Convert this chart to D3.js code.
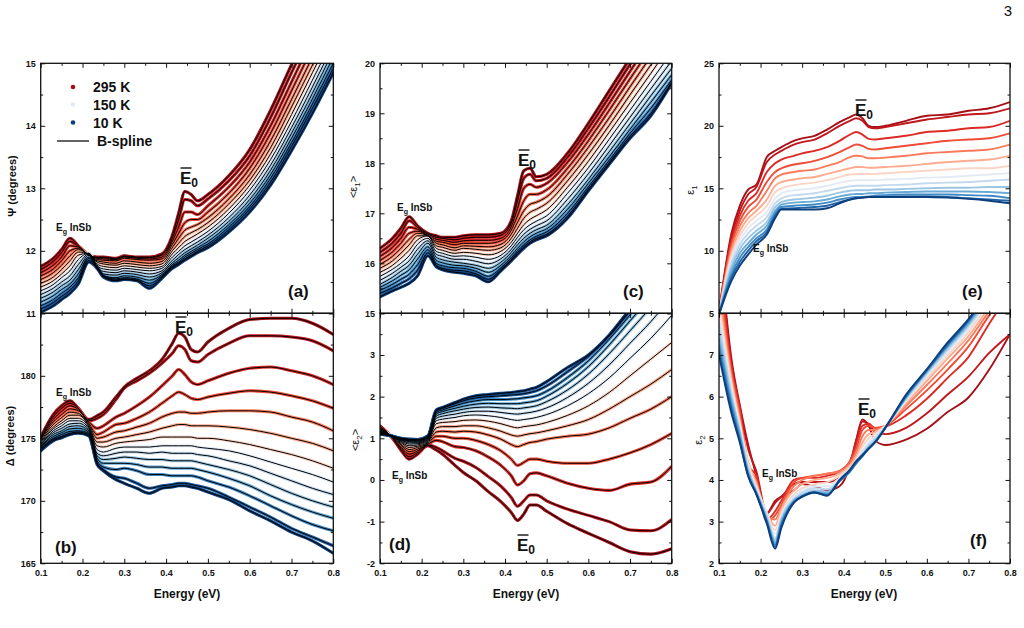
<!DOCTYPE html>
<html><head><meta charset="utf-8">
<script src="https://cdn.jsdelivr.net/npm/d3@7"></script>
<style>
body{margin:0;background:#fff;}
svg{display:block;}
text{font-family:"Liberation Sans",Arial,sans-serif;}
</style></head><body>
<svg id="c" width="1024" height="628"></svg>
<script>
// ---------------- data ----------------
const energies = [0.10,0.13,0.15,0.17,0.19,0.215,0.235,0.25,0.28,0.30,0.33,0.36,0.39,0.415,0.43,0.445,0.46,0.475,0.50,0.55,0.60,0.65,0.70,0.75,0.80];
const temperatures = [295,275,255,235,215,195,175,150,125,100,75,50,30,10];
const legendTemps = [295,150,10];
const curveColors = ["#a50f15","#c0161c","#dc2b25","#ef4b36","#f97b5c","#fcab8f","#fbd5c6","#e2ebf5","#c3d9ee","#9ac6e3","#68aad6","#3f8ac4","#1f62a6","#0c3f7d"];

const psi = [
[11.75,11.88,12.02,12.2,12.08,11.93,11.9,11.9,11.88,11.92,11.9,11.9,11.95,12.25,12.6,12.95,12.9,12.8,12.9,13.2,13.62,14.25,14.98,15.7,16.4],
[11.7,11.83,11.97,12.15,12.07,11.93,11.89,11.89,11.87,11.91,11.89,11.89,11.93,12.2,12.5,12.82,12.8,12.72,12.83,13.12,13.52,14.13,14.85,15.55,16.25],
[11.65,11.77,11.9,12.08,12.06,11.93,11.88,11.87,11.86,11.9,11.88,11.87,11.9,12.15,12.38,12.62,12.62,12.58,12.72,13.02,13.42,14.0,14.7,15.4,16.1],
[11.6,11.71,11.84,12.0,12.04,11.93,11.86,11.85,11.84,11.88,11.86,11.85,11.87,12.1,12.28,12.45,12.5,12.5,12.62,12.92,13.32,13.88,14.56,15.25,15.95],
[11.54,11.65,11.77,11.92,12.02,11.94,11.84,11.82,11.8,11.84,11.82,11.8,11.83,12.05,12.2,12.33,12.38,12.42,12.53,12.83,13.22,13.76,14.42,15.1,15.8],
[11.48,11.58,11.7,11.84,11.98,11.95,11.82,11.79,11.77,11.8,11.78,11.76,11.79,12.0,12.12,12.23,12.29,12.34,12.45,12.75,13.13,13.65,14.3,14.97,15.65],
[11.42,11.52,11.63,11.76,11.93,11.96,11.79,11.75,11.73,11.76,11.74,11.72,11.75,11.95,12.05,12.15,12.21,12.27,12.38,12.67,13.05,13.55,14.18,14.85,15.52],
[11.36,11.46,11.57,11.68,11.86,11.96,11.76,11.71,11.69,11.72,11.7,11.68,11.72,11.9,11.99,12.08,12.14,12.2,12.31,12.6,12.97,13.46,14.07,14.73,15.4],
[11.3,11.4,11.5,11.6,11.78,11.95,11.73,11.67,11.65,11.68,11.66,11.63,11.68,11.85,11.94,12.02,12.08,12.14,12.25,12.53,12.89,13.37,13.97,14.62,15.3],
[11.24,11.34,11.44,11.53,11.7,11.93,11.71,11.63,11.61,11.64,11.62,11.58,11.65,11.81,11.89,11.97,12.03,12.09,12.2,12.47,12.82,13.29,13.88,14.52,15.2],
[11.18,11.28,11.38,11.47,11.63,11.9,11.74,11.6,11.57,11.6,11.58,11.53,11.62,11.78,11.85,11.93,11.99,12.05,12.15,12.42,12.76,13.22,13.8,14.43,15.1],
[11.12,11.22,11.32,11.42,11.57,11.88,11.74,11.6,11.55,11.57,11.55,11.48,11.6,11.76,11.82,11.9,11.96,12.02,12.11,12.38,12.71,13.16,13.73,14.35,15.0],
[11.07,11.17,11.27,11.37,11.52,11.85,11.74,11.6,11.53,11.55,11.53,11.44,11.58,11.74,11.8,11.87,11.93,11.99,12.08,12.34,12.67,13.1,13.67,14.28,14.92],
[11.02,11.12,11.22,11.32,11.47,11.82,11.72,11.58,11.52,11.54,11.52,11.4,11.56,11.72,11.78,11.85,11.91,11.97,12.05,12.3,12.62,13.05,13.6,14.2,14.85]
];

const delta = [
[175.1,176.9,177.6,178.0,177.4,176.5,176.8,177.1,178.3,179.1,179.8,180.4,181.3,182.6,183.4,183.1,182.1,181.9,182.7,183.8,184.5,184.6,184.6,184.2,183.3],
[175.0,176.7,177.4,177.8,177.4,176.4,176.6,176.9,178.1,179.0,179.6,180.2,181.0,181.8,182.4,182.1,181.2,181.1,181.7,182.6,183.2,183.2,183.1,182.8,182.0],
[174.95,176.5,177.15,177.6,177.3,176.3,175.8,176.0,176.7,177.0,177.6,178.3,179.2,180.0,180.5,180.1,179.5,179.3,179.6,180.2,180.6,180.7,180.4,180.0,179.3],
[174.9,176.3,176.9,177.35,177.2,176.2,175.3,175.5,176.1,176.2,176.6,177.1,177.8,178.4,178.7,178.5,178.2,178.1,178.3,178.6,178.8,178.7,178.4,178.0,177.4],
[174.8,176.1,176.65,177.1,177.0,176.1,175.0,175.1,175.5,175.6,175.9,176.2,176.7,177.0,177.1,177.1,177.0,177.0,177.1,177.2,177.2,177.1,176.7,176.3,175.6],
[174.7,175.9,176.4,176.85,176.85,176.0,174.7,174.7,175.0,175.1,175.3,175.5,175.8,176.0,176.1,176.1,176.0,176.0,176.0,175.9,175.7,175.4,175.0,174.6,174.0],
[174.6,175.75,176.2,176.6,176.6,175.9,174.4,174.3,174.6,174.7,174.8,174.9,175.1,175.1,175.1,175.1,175.1,175.0,175.0,174.8,174.5,174.1,173.7,173.2,172.6],
[174.5,175.6,176.0,176.4,176.4,175.8,174.1,173.9,174.2,174.3,174.3,174.3,174.4,174.4,174.4,174.4,174.4,174.3,174.2,174.0,173.6,173.1,172.6,172.1,171.5],
[174.45,175.45,175.8,176.15,176.2,175.7,173.8,173.6,173.8,173.9,173.9,173.8,173.9,173.8,173.8,173.8,173.8,173.7,173.6,173.2,172.8,172.2,171.6,171.0,170.5],
[174.35,175.3,175.6,175.95,176.0,175.6,173.6,173.3,173.4,173.5,173.4,173.3,173.3,173.2,173.2,173.2,173.2,173.1,172.9,172.5,172.0,171.3,170.6,170.0,169.5],
[174.3,175.15,175.45,175.75,175.8,175.5,173.4,173.0,173.0,173.0,172.9,172.7,172.7,172.6,172.6,172.6,172.6,172.5,172.3,171.8,171.2,170.4,169.7,169.1,168.6],
[174.2,175.0,175.3,175.55,175.6,175.4,173.2,172.7,172.5,172.6,172.4,172.1,172.1,172.0,172.0,172.0,172.0,171.9,171.6,171.1,170.4,169.6,168.8,168.1,167.6],
[174.1,174.9,175.15,175.4,175.5,175.3,173.0,172.5,171.9,171.8,171.4,171.0,171.2,171.3,171.4,171.4,171.3,171.2,171.0,170.3,169.5,168.7,167.8,167.1,166.4],
[174.0,174.8,175.05,175.3,175.4,175.2,172.9,172.4,171.7,171.4,171.0,170.6,171.0,171.1,171.2,171.2,171.1,171.0,170.7,170.1,169.2,168.4,167.5,166.8,165.8]
];

const eps1Pseudo = [
[16.3,16.5,16.7,16.93,16.75,16.6,16.55,16.52,16.52,16.55,16.57,16.57,16.6,16.85,17.35,17.85,17.9,17.73,17.78,18.2,18.8,19.45,20.1,20.75,21.4],
[16.22,16.41,16.6,16.85,16.72,16.58,16.52,16.5,16.47,16.5,16.52,16.52,16.56,16.8,17.25,17.7,17.78,17.65,17.7,18.12,18.7,19.33,19.98,20.62,21.27],
[16.14,16.32,16.5,16.72,16.68,16.56,16.48,16.46,16.42,16.45,16.46,16.46,16.5,16.73,17.1,17.5,17.58,17.52,17.6,18.02,18.58,19.2,19.84,20.47,21.12],
[16.06,16.23,16.4,16.6,16.64,16.55,16.44,16.42,16.37,16.4,16.4,16.4,16.45,16.66,16.95,17.25,17.38,17.38,17.47,17.9,18.45,19.06,19.69,20.31,20.95],
[15.98,16.14,16.3,16.48,16.6,16.55,16.4,16.37,16.31,16.35,16.34,16.33,16.38,16.58,16.82,17.05,17.18,17.22,17.33,17.78,18.32,18.91,19.53,20.14,20.77],
[15.9,16.05,16.2,16.37,16.55,16.55,16.35,16.32,16.26,16.3,16.28,16.26,16.31,16.5,16.7,16.9,17.02,17.08,17.2,17.65,18.18,18.76,19.37,19.97,20.58],
[15.82,15.96,16.1,16.26,16.47,16.55,16.3,16.26,16.2,16.22,16.2,16.17,16.24,16.42,16.6,16.77,16.88,16.95,17.07,17.52,18.04,18.62,19.21,19.8,20.4],
[15.74,15.88,16.0,16.15,16.38,16.5,16.24,16.2,16.14,16.15,16.12,16.08,16.16,16.35,16.52,16.67,16.77,16.84,16.95,17.4,17.91,18.48,19.06,19.64,20.22],
[15.66,15.8,15.92,16.05,16.28,16.45,16.18,16.14,16.08,16.08,16.04,15.99,16.09,16.28,16.44,16.58,16.68,16.75,16.85,17.28,17.79,18.35,18.92,19.49,20.05],
[15.58,15.72,15.84,15.96,16.18,16.4,16.12,16.07,16.02,16.0,15.96,15.9,16.02,16.22,16.37,16.5,16.6,16.67,16.76,17.17,17.68,18.23,18.79,19.35,19.9],
[15.52,15.65,15.76,15.87,16.08,16.33,16.06,16.01,15.96,15.95,15.9,15.82,15.96,16.16,16.3,16.43,16.53,16.6,16.69,17.08,17.6,18.13,18.68,19.22,19.77],
[15.46,15.58,15.68,15.78,15.97,16.27,16.0,15.95,15.91,15.9,15.84,15.74,15.91,16.11,16.25,16.37,16.47,16.54,16.63,17.0,17.53,18.06,18.6,19.1,19.67],
[15.4,15.51,15.6,15.69,15.86,16.21,15.96,15.9,15.86,15.85,15.79,15.68,15.87,16.07,16.21,16.33,16.43,16.5,16.58,16.94,17.48,18.01,18.54,19.0,19.62],
[15.33,15.45,15.52,15.6,15.75,16.15,15.93,15.87,15.82,15.8,15.75,15.63,15.85,16.05,16.18,16.3,16.4,16.47,16.55,16.9,17.45,17.98,18.5,18.95,19.6]
];

const eps2Pseudo = [
[1.3,1.0,0.72,0.5,0.62,0.82,0.72,0.62,0.35,0.18,-0.02,-0.28,-0.52,-0.78,-0.97,-0.82,-0.6,-0.6,-0.75,-1.05,-1.28,-1.5,-1.72,-1.78,-1.65],
[1.29,1.01,0.76,0.56,0.66,0.84,0.78,0.7,0.52,0.45,0.3,0.08,-0.15,-0.42,-0.63,-0.5,-0.36,-0.36,-0.5,-0.7,-0.85,-1.0,-1.2,-1.22,-0.95],
[1.27,1.02,0.8,0.62,0.7,0.86,0.95,0.92,0.8,0.78,0.7,0.55,0.35,0.1,-0.12,-0.02,0.15,0.17,0.1,-0.08,-0.2,-0.25,-0.1,-0.05,0.33],
[1.25,1.03,0.84,0.68,0.74,0.88,1.05,1.05,1.0,1.0,0.95,0.85,0.7,0.5,0.35,0.42,0.5,0.5,0.45,0.4,0.4,0.5,0.65,0.85,1.12],
[1.23,1.04,0.87,0.73,0.78,0.9,1.15,1.17,1.15,1.17,1.15,1.08,0.98,0.85,0.8,0.85,0.9,0.92,0.98,1.05,1.1,1.25,1.48,1.7,2.0],
[1.21,1.04,0.9,0.78,0.81,0.92,1.25,1.28,1.28,1.3,1.3,1.25,1.17,1.08,1.05,1.08,1.11,1.13,1.18,1.3,1.45,1.7,2.0,2.3,2.65],
[1.2,1.05,0.92,0.82,0.84,0.94,1.35,1.38,1.4,1.43,1.44,1.41,1.35,1.28,1.25,1.28,1.3,1.32,1.38,1.55,1.78,2.1,2.5,2.9,3.3],
[1.18,1.05,0.94,0.86,0.87,0.96,1.42,1.46,1.5,1.54,1.56,1.54,1.5,1.45,1.43,1.45,1.47,1.5,1.57,1.78,2.07,2.45,2.92,3.4,3.95],
[1.16,1.05,0.96,0.89,0.89,0.98,1.48,1.53,1.58,1.62,1.65,1.65,1.62,1.59,1.58,1.6,1.62,1.65,1.73,1.98,2.32,2.76,3.28,3.8,4.4],
[1.15,1.05,0.97,0.92,0.91,1.0,1.53,1.59,1.66,1.7,1.74,1.75,1.73,1.72,1.71,1.73,1.75,1.78,1.88,2.16,2.54,3.03,3.58,4.15,4.8],
[1.13,1.05,0.98,0.94,0.93,1.02,1.58,1.64,1.72,1.77,1.82,1.84,1.83,1.83,1.83,1.85,1.87,1.9,2.01,2.32,2.72,3.24,3.82,4.4,5.1],
[1.12,1.05,0.99,0.96,0.95,1.04,1.62,1.68,1.78,1.84,1.9,1.93,1.93,1.94,1.95,1.97,1.99,2.02,2.13,2.46,2.86,3.38,3.96,4.55,5.3],
[1.11,1.05,1.0,0.97,0.96,1.05,1.66,1.72,1.83,1.9,1.97,2.0,2.02,2.04,2.05,2.07,2.1,2.14,2.26,2.6,2.97,3.46,4.05,4.65,5.45],
[1.1,1.05,1.0,0.98,0.97,1.06,1.68,1.74,1.86,1.94,2.02,2.05,2.08,2.1,2.12,2.14,2.18,2.22,2.36,2.7,3.0,3.48,4.1,4.7,5.55]
];

const eps1 = [
[5.1,11.4,13.6,14.9,15.3,17.5,18.0,18.3,18.8,19.0,19.2,19.7,20.3,20.7,20.9,20.6,20.0,19.9,20.0,20.4,20.8,20.9,21.2,21.4,21.9],
[5.1,11.1,13.2,14.5,15.1,17.1,17.7,18.0,18.5,18.7,18.9,19.4,20.0,20.4,20.6,20.4,19.9,19.8,19.9,20.2,20.5,20.7,20.9,21.0,21.4],
[5.05,10.8,12.8,14.0,14.6,16.3,17.0,17.3,17.6,17.8,18.0,18.3,18.8,19.3,19.5,19.3,18.95,18.9,19.0,19.2,19.5,19.6,19.8,19.9,20.4],
[5.05,10.5,12.4,13.5,14.1,15.5,16.3,16.6,16.9,17.0,17.2,17.5,17.9,18.3,18.5,18.4,18.15,18.1,18.2,18.4,18.6,18.8,18.9,19.0,19.4],
[5.0,10.2,12.0,13.0,13.6,14.8,15.8,16.1,16.3,16.4,16.5,16.8,17.1,17.5,17.6,17.55,17.4,17.4,17.45,17.6,17.8,17.9,18.0,18.1,18.5],
[5.0,9.9,11.6,12.6,13.2,14.1,15.2,15.5,15.7,15.8,15.9,16.15,16.4,16.6,16.7,16.7,16.65,16.65,16.7,16.8,16.95,17.1,17.2,17.3,17.6],
[5.0,9.6,11.2,12.2,12.8,13.6,14.7,15.0,15.25,15.35,15.45,15.65,15.9,16.1,16.15,16.15,16.15,16.15,16.2,16.3,16.4,16.5,16.6,16.6,16.8],
[5.0,9.3,10.85,11.8,12.4,13.1,14.2,14.6,14.85,14.9,15.0,15.2,15.45,15.6,15.65,15.65,15.65,15.65,15.7,15.75,15.85,15.9,16.0,16.1,16.2],
[5.0,9.0,10.5,11.4,12.0,12.7,13.8,14.2,14.45,14.5,14.6,14.8,15.0,15.15,15.2,15.2,15.2,15.2,15.25,15.3,15.4,15.45,15.5,15.6,15.7],
[4.95,8.7,10.15,11.0,11.6,12.3,13.5,13.9,14.1,14.15,14.25,14.4,14.65,14.8,14.85,14.85,14.85,14.9,14.9,14.95,15.0,15.05,15.05,15.1,15.1],
[4.95,8.4,9.8,10.6,11.3,12.0,13.2,13.7,13.85,13.9,13.95,14.1,14.35,14.5,14.55,14.55,14.6,14.6,14.65,14.7,14.75,14.75,14.75,14.7,14.6],
[4.95,8.1,9.45,10.3,11.0,11.7,13.0,13.5,13.6,13.65,13.7,13.85,14.1,14.25,14.3,14.3,14.35,14.4,14.45,14.5,14.5,14.5,14.45,14.4,14.2],
[4.9,7.85,9.1,10.0,10.75,11.5,12.8,13.35,13.4,13.45,13.5,13.6,13.9,14.1,14.2,14.25,14.3,14.3,14.3,14.35,14.35,14.3,14.2,14.1,14.0],
[4.9,7.6,8.8,9.7,10.5,11.3,12.6,13.3,13.3,13.3,13.3,13.4,13.8,14.1,14.2,14.25,14.3,14.3,14.3,14.3,14.3,14.25,14.15,14.0,13.8]
];

const eps2 = [
[9.8,6.9,5.8,4.85,4.1,3.2,3.5,3.6,3.75,3.9,3.85,3.75,3.85,4.35,4.95,5.45,5.3,4.95,4.84,4.97,5.23,5.63,5.98,6.65,7.5],
[9.6,6.8,5.75,4.75,4.2,3.2,3.45,3.6,3.9,3.95,3.95,3.95,4.05,4.4,4.95,5.4,5.35,5.15,5.1,5.25,5.6,6.05,6.48,7.05,7.5],
[9.3,6.7,5.7,4.35,4.1,3.05,3.25,3.5,4.0,4.05,4.05,4.1,4.2,4.45,4.85,5.3,5.35,5.25,5.28,5.55,5.95,6.45,6.95,7.75,8.5],
[9.0,6.6,5.6,4.3,4.0,3.0,3.15,3.4,3.95,4.05,4.1,4.15,4.22,4.45,4.75,5.2,5.3,5.25,5.3,5.7,6.15,6.65,7.2,7.95,8.6],
[8.7,6.5,5.5,4.4,3.95,3.1,3.05,3.35,3.85,4.0,4.1,4.15,4.2,4.4,4.65,5.05,5.2,5.2,5.3,5.78,6.28,6.8,7.35,8.05,8.7],
[8.4,6.4,5.4,4.45,3.9,3.2,2.9,3.3,3.75,3.9,4.0,4.05,4.15,4.35,4.55,4.9,5.1,5.15,5.3,5.84,6.38,6.92,7.45,8.15,8.8],
[8.2,6.3,5.35,4.4,3.85,3.2,2.8,3.2,3.65,3.8,3.9,3.95,4.1,4.3,4.5,4.8,5.0,5.1,5.3,5.88,6.45,7.0,7.55,8.25,8.9],
[8.0,6.2,5.3,4.35,3.8,3.2,2.7,3.15,3.6,3.75,3.85,3.85,4.05,4.27,4.45,4.7,4.9,5.05,5.28,5.91,6.5,7.06,7.62,8.3,9.0],
[7.8,6.1,5.2,4.3,3.75,3.15,2.6,3.1,3.55,3.7,3.8,3.78,4.0,4.24,4.42,4.65,4.85,5.0,5.27,5.94,6.54,7.12,7.68,8.35,9.05],
[7.6,6.0,5.15,4.25,3.72,3.1,2.55,3.05,3.52,3.65,3.75,3.72,3.98,4.22,4.4,4.6,4.8,4.95,5.26,5.96,6.58,7.16,7.72,8.4,9.1],
[7.4,5.9,5.1,4.2,3.7,3.05,2.5,3.0,3.5,3.62,3.72,3.68,3.97,4.2,4.4,4.58,4.78,4.92,5.25,5.98,6.6,7.2,7.76,8.45,9.15],
[7.25,5.8,5.0,4.15,3.68,3.0,2.45,2.95,3.48,3.6,3.7,3.65,3.97,4.2,4.4,4.57,4.76,4.9,5.25,6.0,6.62,7.23,7.8,8.5,9.2],
[7.1,5.7,4.95,4.1,3.66,3.0,2.4,2.9,3.46,3.6,3.7,3.63,3.98,4.22,4.42,4.57,4.75,4.9,5.25,6.02,6.64,7.26,7.83,8.52,9.22],
[7.0,5.6,4.9,4.1,3.65,2.95,2.35,2.85,3.45,3.6,3.7,3.62,4.0,4.25,4.45,4.6,4.75,4.9,5.25,6.05,6.66,7.3,7.86,8.55,9.25]
];

const xTickLabels = [0.1,0.2,0.3,0.4,0.5,0.6,0.7,0.8];
const psiTicks = [11,12,13,14,15];
const deltaTicks = [165,170,175,180];
const eps1PTicks = [15,16,17,18,19,20];
const eps2PTicks = [-2,-1,0,1,2,3];
const eps1Ticks = [5,10,15,20,25];
const eps2Ticks = [2,3,4,5,6,7];

// ---------------- drawing ----------------
const svg = d3.select("#c");
const FONT = '"Liberation Sans",Arial,sans-serif';

const panels = [
  {id:"a", data:psi,        x0:40.7, x1:333.3, y0:63.3,  y1:313.3, dom:[11,15],  step:1, labels:psiTicks,   fit:true,  bottom:false},
  {id:"b", data:delta,      x0:40.7, x1:333.3, y0:313.3, y1:563.3, dom:[165,185],step:5, labels:deltaTicks, fit:true,  bottom:true},
  {id:"c", data:eps1Pseudo, x0:380,  x1:671.7, y0:63.3,  y1:313.3, dom:[15,20],  step:1, labels:eps1PTicks, fit:true,  bottom:false},
  {id:"d", data:eps2Pseudo, x0:380,  x1:671.7, y0:313.3, y1:563.3, dom:[-2,4],   step:1, labels:eps2PTicks, fit:true,  bottom:true},
  {id:"e", data:eps1,       x0:719,  x1:1010,  y0:63.3,  y1:313.3, dom:[5,25],   step:5, labels:eps1Ticks,  fit:false, bottom:false},
  {id:"f", data:eps2,       x0:719,  x1:1010,  y0:313.3, y1:563.3, dom:[2,8],    step:1, labels:eps2Ticks,  fit:false, bottom:true}
];

const defs = svg.append("defs");

function styleAxis(sel){
  sel.select(".domain").remove();
  sel.selectAll("line").attr("stroke","#111").attr("stroke-width",1);
  sel.selectAll("text").attr("font-family",FONT).attr("font-size",9).attr("font-weight","bold").attr("fill","#111");
  sel.attr("font-family",null).attr("font-size",null);
}

panels.forEach(p=>{
  const x = d3.scaleLinear().domain([0.1,0.8]).range([p.x0,p.x1]);
  const y = d3.scaleLinear().domain(p.dom).range([p.y1,p.y0]);
  defs.append("clipPath").attr("id","clip-"+p.id).append("rect")
    .attr("x",p.x0).attr("y",p.y0).attr("width",p.x1-p.x0).attr("height",p.y1-p.y0);
  const g = svg.append("g").attr("clip-path",`url(#clip-${p.id})`);
  const line = d3.line().x((d,i)=>x(energies[i])).y(d=>y(d)).curve(d3.curveMonotoneX);
  if(p.fit){
    g.selectAll("path.band").data(p.data).join("path").attr("class","band")
      .attr("d",line).attr("fill","none").attr("stroke",(d,i)=>curveColors[i])
      .attr("stroke-width",3.1).attr("stroke-linejoin","round").attr("stroke-linecap","round");
    g.selectAll("path.fit").data(p.data).join("path").attr("class","fit")
      .attr("d",line).attr("fill","none").attr("stroke","#000").attr("stroke-width",1);
  } else {
    g.selectAll("path.curve").data(p.data).join("path").attr("class","curve")
      .attr("d",line).attr("fill","none").attr("stroke",(d,i)=>curveColors[i])
      .attr("stroke-width",1.9).attr("stroke-linejoin","round");
  }

  // ticks
  const majY = d3.range(p.dom[0], p.dom[1]+1e-9, p.step);
  const minY = d3.range(p.dom[0], p.dom[1]+1e-9, p.step/2).filter(v=>!majY.some(m=>Math.abs(m-v)<1e-9));
  const majX = d3.range(0.1, 0.8+1e-9, 0.1);
  const minX = d3.range(0.15, 0.8, 0.1);
  const fmtY = d => p.labels.some(l=>Math.abs(l-d)<1e-9) ? String(d) : "";

  svg.append("g").attr("transform",`translate(${p.x0},0)`)
    .call(d3.axisLeft(y).tickValues(majY).tickSize(-4.5).tickPadding(5).tickFormat(fmtY)).call(styleAxis);
  svg.append("g").attr("transform",`translate(${p.x0},0)`)
    .call(d3.axisLeft(y).tickValues(minY).tickSize(-2.5).tickFormat("")).call(styleAxis);
  svg.append("g").attr("transform",`translate(${p.x1},0)`)
    .call(d3.axisRight(y).tickValues(majY).tickSize(-4.5).tickFormat("")).call(styleAxis);
  svg.append("g").attr("transform",`translate(${p.x1},0)`)
    .call(d3.axisRight(y).tickValues(minY).tickSize(-2.5).tickFormat("")).call(styleAxis);
  svg.append("g").attr("transform",`translate(0,${p.y0})`)
    .call(d3.axisTop(x).tickValues(majX).tickSize(-4.5).tickFormat("")).call(styleAxis);
  svg.append("g").attr("transform",`translate(0,${p.y0})`)
    .call(d3.axisTop(x).tickValues(minX).tickSize(-2.5).tickFormat("")).call(styleAxis);
  svg.append("g").attr("transform",`translate(0,${p.y1})`)
    .call(d3.axisBottom(x).tickValues(p.bottom?xTickLabels:majX).tickSize(-4.5).tickPadding(6.5)
      .tickFormat(p.bottom? d3.format(".1f") : "")).call(styleAxis);
  svg.append("g").attr("transform",`translate(0,${p.y1})`)
    .call(d3.axisBottom(x).tickValues(minX).tickSize(-2.5).tickFormat("")).call(styleAxis);

  svg.append("rect").attr("x",p.x0).attr("y",p.y0).attr("width",p.x1-p.x0).attr("height",p.y1-p.y0)
    .attr("fill","none").attr("stroke","#111").attr("stroke-width",1.3);
});

// ---------------- text annotations ----------------
function txt(x,y,s,size,weight,anchor){
  return svg.append("text").attr("x",x).attr("y",y).attr("font-family",FONT)
    .attr("font-size",size).attr("font-weight",weight||"bold").attr("text-anchor",anchor||"start")
    .attr("fill","#111").text(s);
}
function e0Label(x,y){
  const t = svg.append("text").attr("x",x).attr("y",y).attr("font-family",FONT)
    .attr("font-size",17).attr("font-weight","bold").attr("fill","#111");
  t.append("tspan").text("E");
  t.append("tspan").attr("font-size",12).attr("dy",3).text("0");
  svg.append("line").attr("x1",x+0.5).attr("x2",x+11.5).attr("y1",y-16).attr("y2",y-16)
    .attr("stroke","#111").attr("stroke-width",1.4);
}
function egLabel(x,y){
  const t = svg.append("text").attr("x",x).attr("y",y).attr("font-family",FONT)
    .attr("font-size",10).attr("font-weight","bold").attr("fill","#111");
  t.append("tspan").text("E");
  t.append("tspan").attr("font-size",7).attr("dy",2.5).text("g");
  t.append("tspan").attr("dy",-2.5).text(" InSb");
}
e0Label(180,184); e0Label(175,333); e0Label(518,166); e0Label(517,551); e0Label(855,116); e0Label(858,415);
egLabel(56,231); egLabel(56,396); egLabel(397,211); egLabel(392,479); egLabel(753,252); egLabel(762,477);

[["(a)",288,297],["(b)",55,553],["(c)",623,297],["(d)",389,550],["(e)",962,297],["(f)",970,546]]
  .forEach(d=>txt(d[1],d[2],d[0],17,"bold"));

// axis titles
function yTitle(cx,cy,parts,weight){
  const t = svg.append("text").attr("transform",`translate(${cx},${cy}) rotate(-90)`)
    .attr("text-anchor","middle").attr("font-family",FONT).attr("font-size",11)
    .attr("font-weight",weight).attr("fill","#111");
  parts.forEach(pp=>{
    const s=t.append("tspan").text(pp.t);
    if(pp.sub){ s.attr("font-size",8).attr("dy",2.5); }
    if(pp.up){ s.attr("dy",-2.5); }
  });
}
yTitle(16,186,[{t:"Ψ (degrees)"}],"bold");
yTitle(14,436,[{t:"Δ (degrees)"}],"bold");
yTitle(357,187,[{t:"<ε"},{t:"1",sub:true},{t:">",up:true}],"normal");
yTitle(359,440,[{t:"<ε"},{t:"2",sub:true},{t:">",up:true}],"normal");
yTitle(694,190,[{t:"ε"},{t:"1",sub:true}],"normal");
yTitle(702,440,[{t:"ε"},{t:"2",sub:true}],"normal");

[187,526,864].forEach(cx=>txt(cx,598,"Energy (eV)",12,"bold","middle"));

// legend in panel (a)
const legendColors = legendTemps.map(t=>curveColors[temperatures.indexOf(t)]);
const legY = [87,104.5,122.5];
legendTemps.forEach((t,i)=>{
  svg.append("circle").attr("cx",73).attr("cy",legY[i]).attr("r",2.3).attr("fill",legendColors[i]);
  txt(93,legY[i]+5,t+" K",14,"bold");
});
svg.append("line").attr("x1",57).attr("x2",89).attr("y1",141).attr("y2",141).attr("stroke","#111").attr("stroke-width",1.3);
txt(97,146,"B-spline",14,"bold");

// page number
svg.append("text").attr("x",1008).attr("y",16).attr("text-anchor","middle")
  .attr("font-family",'"Liberation Serif","DejaVu Serif",serif').attr("font-size",15).attr("fill","#111").text("3");
</script>
</body></html>
